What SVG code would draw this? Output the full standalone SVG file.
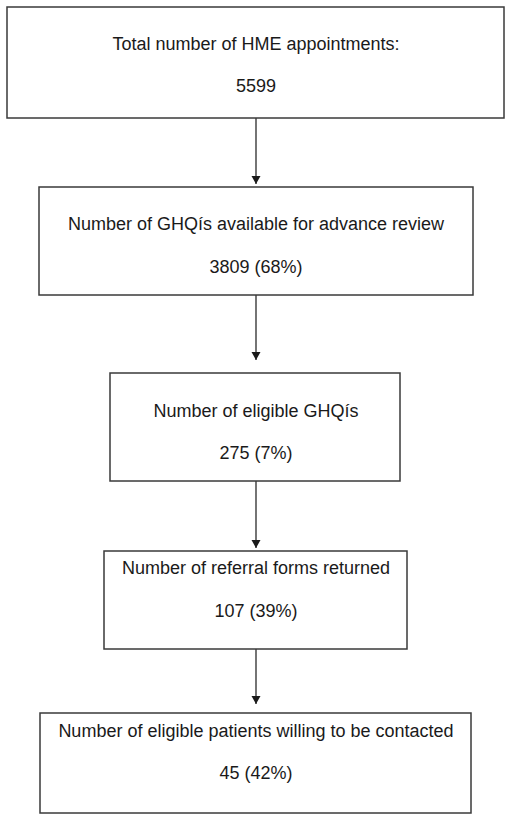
<svg xmlns="http://www.w3.org/2000/svg" width="512" height="820" viewBox="0 0 512 820">
<style>
.box{fill:#fff;stroke:#3a3a3a;stroke-width:1.5}
.t{font-family:"Liberation Sans",Arial,sans-serif;font-size:18px;fill:#1a1a1a;text-anchor:middle}
.c{stroke:#2a2a2a;stroke-width:1.3;fill:none}
</style>
<defs>
<marker id="ah" markerWidth="8" markerHeight="10" refX="8" refY="5" orient="auto" markerUnits="userSpaceOnUse">
<path d="M0,0.5 L8,5 L0,9.5 Z" fill="#1a1a1a"/>
</marker>
</defs>
<rect width="512" height="820" fill="#fff"/>
<g id="connectors">
<line class="c" x1="256" y1="118" x2="256" y2="184" marker-end="url(#ah)"/>
<line class="c" x1="256" y1="295" x2="256" y2="360" marker-end="url(#ah)"/>
<line class="c" x1="256" y1="481" x2="256" y2="548" marker-end="url(#ah)"/>
<line class="c" x1="256" y1="649" x2="256" y2="704" marker-end="url(#ah)"/>
</g>
<g id="n1">
<rect class="box" x="7" y="7" width="497" height="111"/>
<text class="t" x="256" y="50">Total number of HME appointments:</text>
<text class="t" x="256" y="92">5599</text>
</g>
<g id="n2">
<rect class="box" x="39" y="187" width="434" height="108"/>
<text class="t" x="256" y="230">Number of GHQís available for advance review</text>
<text class="t" x="256" y="273">3809 (68%)</text>
</g>
<g id="n3">
<rect class="box" x="110" y="373" width="290" height="108"/>
<text class="t" x="256" y="417">Number of eligible GHQís</text>
<text class="t" x="256" y="459">275 (7%)</text>
</g>
<g id="n4">
<rect class="box" x="104" y="551" width="303" height="98"/>
<text class="t" x="256" y="574">Number of referral forms returned</text>
<text class="t" x="256" y="617">107 (39%)</text>
</g>
<g id="n5">
<rect class="box" x="40" y="713" width="431" height="100"/>
<text class="t" x="256" y="737">Number of eligible patients willing to be contacted</text>
<text class="t" x="256" y="779">45 (42%)</text>
</g>
</svg>
